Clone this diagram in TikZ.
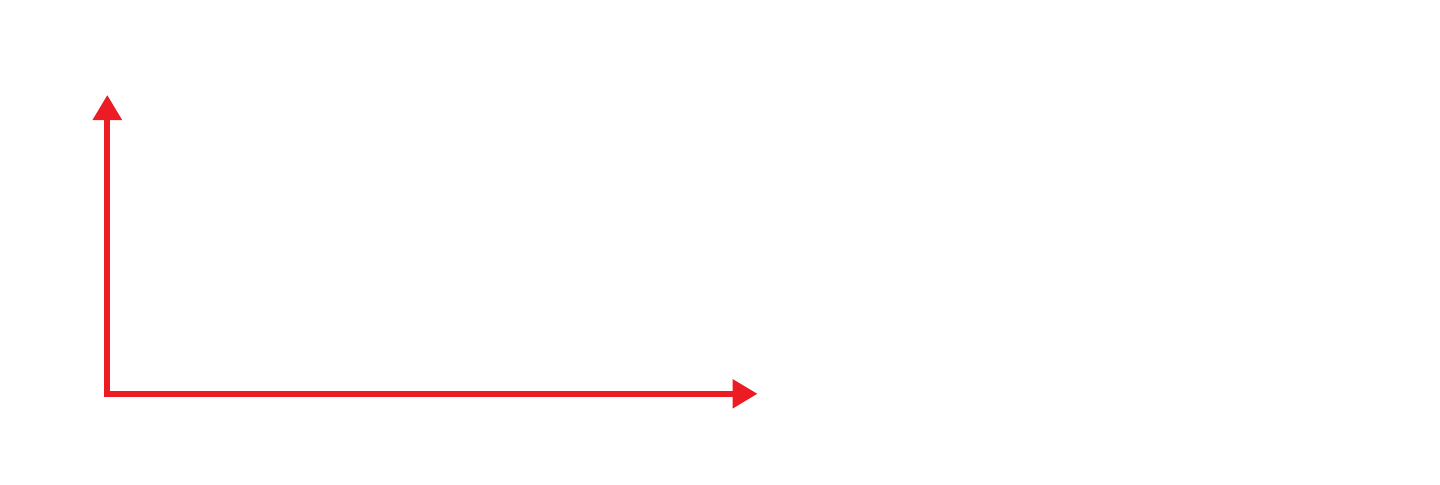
\documentclass[tikz,border=0pt]{standalone}
\usetikzlibrary{arrows.meta}
\definecolor{axisred}{HTML}{ED1C24}
\begin{document}
\begin{tikzpicture}[x=0.5pt,y=0.5pt,
  axis/.style={draw=axisred, line width=2.85pt, line join=miter,
    {Triangle[length=12.5pt,width=14pt]}-{Triangle[length=12.5pt,width=14pt]}}]
\useasboundingbox (0,0) rectangle (1440,484);
\coordinate (ytip) at (107.3,389);
\coordinate (origin) at (107.3,90.2);
\coordinate (xtip) at (757.5,90.2);
\draw[axis] (ytip) -- (origin) -- (xtip);
\end{tikzpicture}
\end{document}
